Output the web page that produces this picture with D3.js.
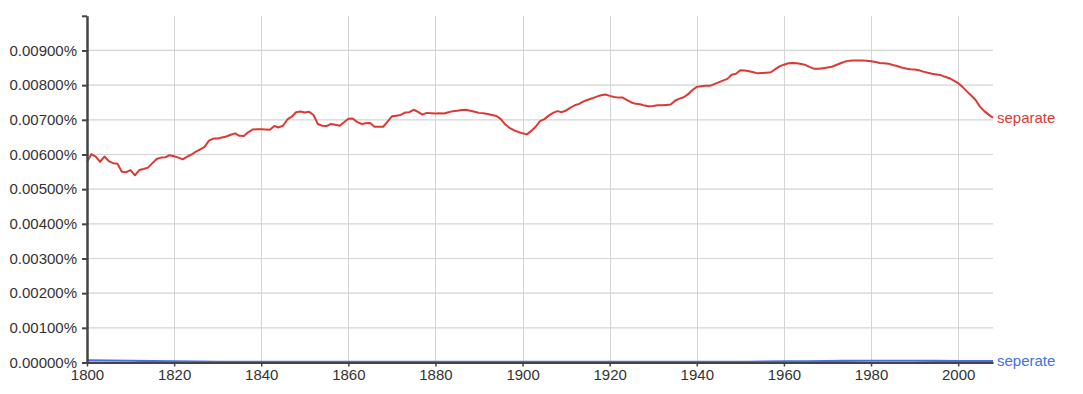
<!DOCTYPE html>
<html>
<head>
<meta charset="utf-8">
<script src="https://cdn.jsdelivr.net/npm/d3@7"></script>
<style>
  body { margin: 0; background: #fff; }
  svg text { font-family: Arial, "Liberation Sans", sans-serif; }
</style>
</head>
<body>
<svg id="chart" width="1083" height="394"></svg>
<script>
// first year of the red series, one value per year after it
const startYear = 1800;

// "separate", percent of all words, 1800..2008
const separateValues = [
  0.00579, 0.00601, 0.00594, 0.00579, 0.00594, 0.00581, 0.00575, 0.00573, 0.00550, 0.00549,
  0.00555, 0.00540, 0.00555, 0.00558, 0.00562, 0.00575, 0.00587, 0.00591, 0.00592, 0.00598,
  0.00595, 0.00591, 0.00586, 0.00594, 0.00600, 0.00608, 0.00615, 0.00622, 0.00640, 0.00646,
  0.00646, 0.00649, 0.00652, 0.00657, 0.00661, 0.00654, 0.00653, 0.00664, 0.00672, 0.00673,
  0.00673, 0.00672, 0.00671, 0.00682, 0.00678, 0.00683, 0.00701, 0.00709, 0.00722, 0.00724,
  0.00721, 0.00723, 0.00714, 0.00688, 0.00683, 0.00682, 0.00688, 0.00686, 0.00683, 0.00693,
  0.00703, 0.00704, 0.00694, 0.00688, 0.00690, 0.00691, 0.00680, 0.00680, 0.00680, 0.00695,
  0.00710, 0.00712, 0.00714, 0.00721, 0.00722, 0.00729, 0.00723, 0.00715, 0.00720, 0.00719,
  0.00718, 0.00719, 0.00718, 0.00722, 0.00725, 0.00726, 0.00728, 0.00729, 0.00726, 0.00723,
  0.00720, 0.00719, 0.00717, 0.00714, 0.00711, 0.00702, 0.00687, 0.00677, 0.00670, 0.00665,
  0.00661, 0.00658, 0.00668, 0.00680, 0.00696, 0.00702, 0.00712, 0.00720, 0.00725, 0.00722,
  0.00727, 0.00735, 0.00742, 0.00746, 0.00753, 0.00758, 0.00762, 0.00767, 0.00771, 0.00773,
  0.00769, 0.00766, 0.00764, 0.00764, 0.00757, 0.00750, 0.00746, 0.00745, 0.00741, 0.00739,
  0.00740, 0.00742, 0.00742, 0.00743, 0.00744, 0.00755, 0.00761, 0.00765, 0.00774, 0.00786,
  0.00795, 0.00797, 0.00798, 0.00798, 0.00803, 0.00808, 0.00813, 0.00818, 0.00830, 0.00833,
  0.00843, 0.00842, 0.00840, 0.00837, 0.00834, 0.00835, 0.00836, 0.00837, 0.00846, 0.00854,
  0.00859, 0.00863, 0.00864, 0.00863, 0.00861, 0.00858, 0.00852, 0.00847, 0.00847, 0.00849,
  0.00851, 0.00853, 0.00858, 0.00863, 0.00868, 0.00870, 0.00871, 0.00871, 0.00871, 0.00870,
  0.00869, 0.00867, 0.00864, 0.00863, 0.00862, 0.00858, 0.00855, 0.00851, 0.00848, 0.00846,
  0.00845, 0.00843, 0.00839, 0.00836, 0.00833, 0.00831, 0.00829, 0.00824, 0.00820, 0.00813,
  0.00806, 0.00795, 0.00782, 0.00770, 0.00757, 0.00738, 0.00725, 0.00715, 0.00706
];

// "seperate" stays close to zero; read roughly every ten years
const seperateYears = [1800, 1810, 1820, 1830, 1840, 1850, 1860, 1870, 1880, 1890, 1900,
  1910, 1920, 1930, 1940, 1950, 1960, 1970, 1980, 1990, 2000, 2008];
const seperateValues = [0.00006, 0.00005, 0.00003, 0.00002, 0.00002, 0.00002, 0.00002, 0.00002,
  0.00002, 0.00002, 0.00002, 0.00002, 0.00002, 0.00002, 0.00002, 0.00002, 0.00003, 0.00004,
  0.00005, 0.00005, 0.00004, 0.00004];

const xTicks = [1800, 1820, 1840, 1860, 1880, 1900, 1920, 1940, 1960, 1980, 2000];
const yTicks = [0, 0.001, 0.002, 0.003, 0.004, 0.005, 0.006, 0.007, 0.008, 0.009, 0.01];

const seriesNames = ['separate', 'seperate'];
const seriesColors = ['#db3a34', '#4470e0'];

const width = 1083;
const height = 394;
const margin = { top: 15.8, right: 90, bottom: 31.5, left: 87 };
const innerWidth = width - margin.left - margin.right;
const innerHeight = height - margin.top - margin.bottom;

const svg = d3.select('#chart');
const g = svg.append('g')
  .attr('transform', `translate(${margin.left},${margin.top})`);

const xScale = d3.scaleLinear()
  .domain([1800, 2008])
  .range([0, innerWidth]);

const yScale = d3.scaleLinear()
  .domain([0, 0.01])
  .range([innerHeight, 0]);

// grid lines
g.append('g')
  .attr('class', 'grid-x')
  .selectAll('line')
  .data(xTicks.slice(1))
  .join('line')
  .attr('x1', d => Math.round(xScale(d)) + 0.5)
  .attr('x2', d => Math.round(xScale(d)) + 0.5)
  .attr('y1', 0)
  .attr('y2', innerHeight)
  .attr('stroke', '#d4d4d4')
  .attr('stroke-width', 1);

g.append('g')
  .attr('class', 'grid-y')
  .selectAll('line')
  .data(yTicks.slice(1, -1))
  .join('line')
  .attr('x1', 0)
  .attr('x2', innerWidth)
  .attr('y1', d => yScale(d))
  .attr('y2', d => yScale(d))
  .attr('stroke', '#d4d4d4')
  .attr('stroke-width', 1.2);

// lines
const redData = separateValues.map((v, i) => ({ year: startYear + i, value: v }));
const blueData = seperateYears.map((y, i) => ({ year: y, value: seperateValues[i] }));

const line = d3.line()
  .x(d => xScale(d.year))
  .y(d => yScale(d.value));

g.append('path')
  .datum(blueData)
  .attr('fill', 'none')
  .attr('stroke', seriesColors[1])
  .attr('stroke-width', 2.2)
  .attr('d', line.curve(d3.curveMonotoneX));

g.append('path')
  .datum(redData)
  .attr('fill', 'none')
  .attr('stroke', seriesColors[0])
  .attr('stroke-width', 2)
  .attr('stroke-linejoin', 'round')
  .attr('d', line.curve(d3.curveLinear));

// y axis
const yAxis = g.append('g')
  .attr('class', 'y-axis')
  .call(d3.axisLeft(yScale)
    .tickValues(yTicks)
    .tickSize(5)
    .tickSizeOuter(0)
    .tickPadding(5)
    .tickFormat(d => d3.format('.5f')(d) + '%'));

yAxis.select('.domain').attr('stroke', '#444').attr('stroke-width', 2.5);
yAxis.selectAll('.tick line').attr('stroke', '#444').attr('stroke-width', 2);
yAxis.selectAll('text')
  .attr('fill', '#333')
  .style('font-size', '15px');
// the top tick has no label
yAxis.selectAll('.tick').filter(d => d === 0.01).select('text').remove();

// x axis
const xAxis = g.append('g')
  .attr('class', 'x-axis')
  .attr('transform', `translate(0,${innerHeight})`)
  .call(d3.axisBottom(xScale)
    .tickValues(xTicks)
    .tickSize(4)
    .tickSizeOuter(0)
    .tickPadding(3)
    .tickFormat(d3.format('d')));

xAxis.select('.domain').attr('stroke', '#444').attr('stroke-width', 2);
xAxis.selectAll('.tick line').attr('stroke', '#444').attr('stroke-width', 1.5);
xAxis.selectAll('text')
  .attr('fill', '#333')
  .style('font-size', '15px');

// series labels at line ends
const lastRed = redData[redData.length - 1];
const lastBlue = blueData[blueData.length - 1];
g.append('text')
  .attr('x', xScale(lastRed.year) + 4)
  .attr('y', yScale(lastRed.value))
  .attr('dy', '0.35em')
  .attr('fill', seriesColors[0])
  .style('font-size', '15px')
  .text(seriesNames[0]);

g.append('text')
  .attr('x', xScale(lastBlue.year) + 4)
  .attr('y', yScale(lastBlue.value))
  .attr('dy', '0.35em')
  .attr('fill', seriesColors[1])
  .style('font-size', '15px')
  .text(seriesNames[1]);
</script>
</body>
</html>
